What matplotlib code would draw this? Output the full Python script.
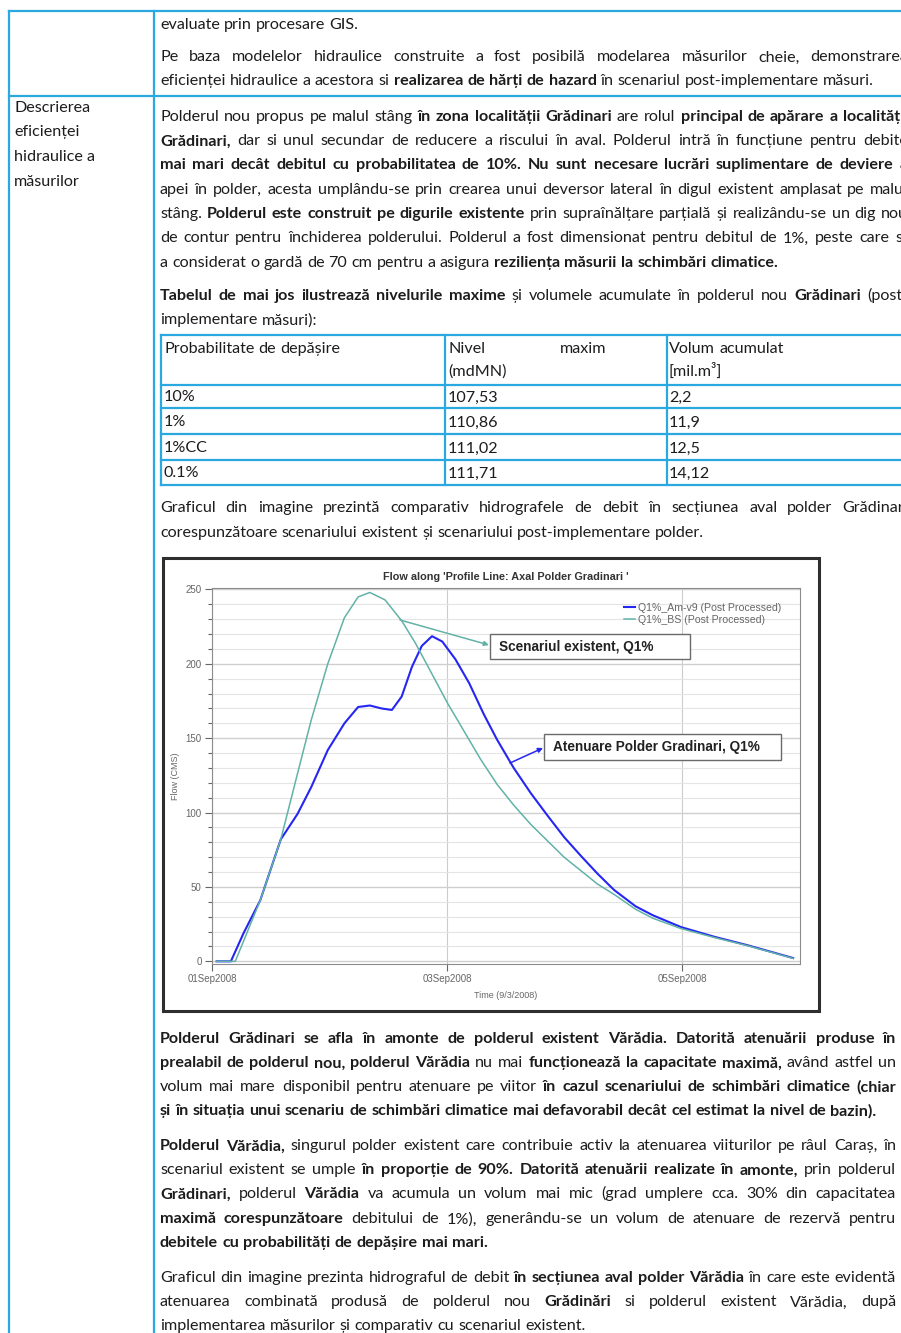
import math
import matplotlib
matplotlib.use("Agg")
import matplotlib.pyplot as plt
from matplotlib.font_manager import FontProperties
from matplotlib.patches import Rectangle, FancyArrowPatch

# ---- table data ----
prob_labels = ["10%", "1%", "1%CC", "0.1%"]
max_level = ["107,53", "110,86", "111,02", "111,71"]
stored_volume = ["2,2", "11,9", "12,5", "14,12"]

# ---- hydrographs, hours after 01Sep2008 00:00 ----
hours_am = [0.9, 3.8, 6.4, 9.8, 14.0, 17.4, 20.2, 23.6, 27.0, 29.8, 32.2, 34.6,
            36.7, 38.7, 40.8, 42.8, 44.9, 47.0, 49.7, 52.5, 55.5, 58.2, 61.6,
            65.1, 68.5, 71.9, 75.3, 78.7, 82.1, 86.5, 90.0, 95.8, 102.6, 109.4,
            118.7]
flow_am = [0, 0, 19, 41, 82, 99, 117, 142, 160, 171, 172, 170,
           169, 178, 198, 212, 218.6, 215, 203, 187, 166, 149, 130,
           113, 98, 83.5, 71, 59, 48, 37, 31, 23, 16.5, 10.8,
           2.2]
hours_bs = [0.9, 4.7, 9.8, 14.0, 17.4, 20.2, 23.6, 27.0, 29.8, 32.2, 35.3,
            38.7, 41.5, 44.6, 48.0, 51.4, 54.8, 58.2, 61.6, 65.1, 68.5, 71.9,
            75.3, 78.7, 82.1, 86.5, 90.0, 95.8, 102.6, 109.4, 118.7]
flow_bs = [0, 0, 41, 82, 126, 162, 200, 231, 245, 248, 243,
           229, 214, 195, 174, 155, 136, 119, 105, 92, 81, 70,
           61, 52, 45, 35, 29, 22, 16, 10.5, 2]
date_ticks = [0, 48, 96]
date_labels = ["01Sep2008", "03Sep2008", "05Sep2008"]

W, H = 901, 1333
TXT = "#1c1c1c"
CYAN = "#2aa9e1"
BODY = "Lato"
CHART = "Liberation Sans"

fig = plt.figure(figsize=(W / 100, H / 100), dpi=100)
page = fig.add_axes([0, 0, 1, 1], zorder=0)
page.set_xlim(0, W)
page.set_ylim(H, 0)
page.axis("off")
renderer = fig.canvas.get_renderer()


def fp(size, bold=False, fam=BODY):
    return FontProperties(family=fam, size=size, weight="bold" if bold else "normal")


def metrics(s, size, bold=False):
    return renderer.get_text_width_height_descent(s, fp(size, bold), ismath=False)


def width(s, size, bold=False):
    return metrics(s, size, bold)[0]


def put(x, yb, s, size, bold=False):
    # Agg snaps each word's bitmap to whole pixels by its own descent;
    # nudge so every word lands on the same baseline row
    d = metrics(s, size, bold)[2]
    drop = math.ceil(d - 1e-6) - d
    page.text(x, round(yb) + drop, s, fontproperties=fp(size, bold), color=TXT,
              va="baseline", ha="left")


# (left, right, y centre, segments, justified)
lines = [
    (160, 908, 25, [("evaluate prin procesare GIS.", 0)], False),
    (160, 908, 57, [("Pe baza modelelor hidraulice construite a fost posibilă modelarea măsurilor cheie, demonstrarea", 0)], True),
    (160, 908, 81, [("eficienței hidraulice a acestora si", 0), ("realizarea de hărți de hazard", 1),
                    ("în scenariul post-implementare măsuri.", 0)], False),
    (160, 908, 117, [("Polderul nou propus pe malul stâng", 0), ("în zona localității Grădinari", 1),
                     ("are rolul", 0), ("principal de apărare a localității", 1)], True),
    (160, 908, 141, [("Grădinari,", 1), ("dar si unul secundar de reducere a riscului în aval.  Polderul intră în funcțiune pentru debite", 0)], True),
    (160, 908, 165, [("mai mari decât debitul cu probabilitatea de 10%. Nu sunt necesare lucrări suplimentare de deviere a", 1)], True),
    (160, 908, 190, [("apei în polder, acesta umplându-se prin crearea unui deversor lateral în digul existent amplasat pe malul", 0)], True),
    (160, 908, 214, [("stâng.", 0), ("Polderul este construit pe digurile existente", 1),
                     ("prin supraînălțare parțială și realizându-se un dig nou", 0)], True),
    (160, 908, 238, [("de contur pentru închiderea polderului. Polderul a fost dimensionat pentru debitul de 1%, peste care s-", 0)], True),
    (160, 908, 263, [("a considerat o gardă de 70 cm pentru a asigura", 0), ("reziliența măsurii la schimbări climatice.", 1)], False),
    (160, 908, 296, [("Tabelul de mai jos ilustrează nivelurile maxime", 1), ("și volumele acumulate în polderul nou", 0),
                     ("Grădinari", 1), ("(post-", 0)], True),
    (160, 908, 320, [("implementare măsuri):", 0)], False),
    (160, 908, 508, [("Graficul din imagine prezintă comparativ hidrografele de debit în secțiunea aval polder Grădinari", 0)], True),
    (160, 908, 533, [("corespunzătoare scenariului existent și scenariului post-implementare polder.", 0)], False),
    (160, 896, 1039, [("Polderul Grădinari se afla în amonte de polderul existent Vărădia. Datorită atenuării produse în", 1)], True),
    (160, 896, 1063, [("prealabil de polderul nou, polderul Vărădia", 1), ("nu mai", 0),
                      ("funcționează la capacitate maximă,", 1), ("având astfel un", 0)], True),
    (160, 896, 1087, [("volum mai mare disponibil pentru atenuare pe viitor", 0),
                      ("în cazul scenariului de schimbări climatice (chiar", 1)], True),
    (160, 896, 1111, [("și în situația unui scenariu de schimbări climatice mai defavorabil decât cel estimat la nivel de bazin).", 1)], False),
    (160, 896, 1146, [("Polderul Vărădia,", 1), ("singurul polder existent care contribuie activ la atenuarea viiturilor pe râul Caraș, în", 0)], True),
    (160, 896, 1170, [("scenariul existent se umple", 0), ("în proporție de 90%. Datorită atenuării realizate în amonte,", 1),
                      ("prin polderul", 0)], True),
    (160, 896, 1194, [("Grădinari,", 1), ("polderul", 0), ("Vărădia", 1),
                      ("va acumula un volum mai mic (grad umplere cca. 30% din capacitatea", 0)], True),
    (160, 896, 1219, [("maximă corespunzătoare", 1), ("debitului de 1%), generându-se un volum de atenuare de rezervă pentru", 0)], True),
    (160, 896, 1243, [("debitele cu probabilități de depășire mai mari.", 1)], False),
    (160, 896, 1278, [("Graficul din imagine prezinta hidrograful de debit", 0), ("în secțiunea aval polder Vărădia", 1),
                      ("în care este evidentă", 0)], True),
    (160, 896, 1302, [("atenuarea combinată produsă de polderul nou", 0), ("Grădinări", 1),
                      ("si polderul existent Vărădia, după", 0)], True),
    (160, 896, 1326, [("implementarea măsurilor și comparativ cu scenariul existent.", 0)], False),
]

# one body size: as large as the reference, but every line must fit its column
base = 10.0
ratio = 0.0
for x0, x1, yc, segs, just in lines:
    words = [(w, b) for s, b in segs for w in s.split()]
    sp = width("a a", base) - width("aa", base)
    nat = sum(width(w, base, b) for w, b in words) + sp * (len(words) - 1)
    ratio = max(ratio, nat / (x1 - x0))
size = min(12.2, base / ratio * 0.99)


def draw_line(x0, x1, yc, segs, just, sz):
    words = [(w, b) for s, b in segs for w in s.split()]
    ws = [width(w, sz, b) for w, b in words]
    sp = width("a a", sz) - width("aa", sz)
    gap = (x1 - x0 - sum(ws)) / (len(words) - 1) if just and len(words) > 1 else sp
    x = x0
    for (w, b), wd in zip(words, ws):
        put(x, yc + 4, w, sz, b)
        x += wd + gap


for ln in lines:
    draw_line(*ln, size)

# left column
for i, s in enumerate(["Descrierea", "eficienței", "hidraulice a", "măsurilor"]):
    put(14, 108 + 24.5 * i + 4, s, size)

# outer table grid
page.plot([9, W], [11, 11], color=CYAN, lw=1.6)
page.plot([9, W], [95.7, 95.7], color=CYAN, lw=1.6)
page.plot([9, 9], [11, H], color=CYAN, lw=1.6)
page.plot([154, 154], [11, H], color=CYAN, lw=1.6)

# inner table
row_y = [334.5, 384.5, 408, 434, 460, 484.5]
for y in row_y:
    page.plot([161, W], [y, y], color=CYAN, lw=1.6)
for x in [161, 444.5, 666.5]:
    page.plot([x, x], [row_y[0], row_y[-1]], color=CYAN, lw=1.6)
draw_line(164, 440, 349, [("Probabilitate de depășire", 0)], False, size)
put(448, 353, "Nivel", size)
put(560, 353, "maxim", size)
put(448, 375, "(mdMN)", size)
draw_line(669, 900, 349, [("Volum acumulat", 0)], False, size)
put(669, 375, "[mil.m³]", size)
for i, (p, lv, vol) in enumerate(zip(prob_labels, max_level, stored_volume)):
    yb = (row_y[i + 1] + row_y[i + 2]) / 2 + 4.5
    put(164, yb, p, size)
    put(448, yb, lv, size)
    put(669, yb, vol, size)

# chart frame
page.add_patch(Rectangle((162.5, 557.5), 656.5, 453.5, fill=False, ec="#2e2e2e", lw=2.2))

# ---- hydrograph chart ----
ax = fig.add_axes([211.5 / W, 1 - 964 / H, (800 - 211.5) / W, (964 - 588) / H], zorder=1)
ax.plot(hours_am, flow_am, color="#2626f2", lw=1.5, label="Q1%_Am-v9 (Post Processed)", zorder=3)
ax.plot(hours_bs, flow_bs, color="#62b2a8", lw=1.1, label="Q1%_BS (Post Processed)", zorder=3)
ax.set_xlim(-0.16, 120.1)
ax.set_ylim(-1.8, 251)
ax.set_xticks(date_ticks)
ax.set_xticklabels(date_labels)
ax.set_yticks(range(0, 251, 50))
ax.set_yticks(range(0, 251, 10), minor=True)
ax.grid(which="minor", axis="y", color="#e4e4e4", lw=0.8)
ax.grid(which="major", axis="y", color="#cfcfcf", lw=1.0)
ax.grid(which="major", axis="x", color="#cccccc", lw=0.8)
ax.tick_params(which="major", colors="#666666", labelsize=7, length=5, width=0.8, pad=2)
ax.tick_params(which="minor", colors="#666666", length=3, width=0.8)
for lab in ax.get_xticklabels() + ax.get_yticklabels():
    lab.set_fontfamily(CHART)
for sp in ax.spines.values():
    sp.set_color("#8c8c8c")
ax.set_title("Flow along 'Profile Line: Axal Polder Gradinari '", fontsize=7.8,
             fontweight="bold", family=CHART, color="#333333", pad=6)
ax.set_ylabel("Flow (CMS)", fontsize=6.5, family=CHART, color="#666666", labelpad=4)
ax.set_xlabel("Time (9/3/2008)", fontsize=6.5, family=CHART, color="#666666", labelpad=5)
ax.legend(loc="upper right", bbox_to_anchor=(0.985, 0.985), frameon=False,
          prop=fp(7.6, fam=CHART), labelcolor="#666666", handlelength=1.1,
          handletextpad=0.3, labelspacing=0.15)

# callouts
top = fig.add_axes([0, 0, 1, 1], zorder=2)
top.set_xlim(0, W)
top.set_ylim(H, 0)
top.axis("off")
top.patch.set_alpha(0)
callouts = [
    ("Scenariul existent, Q1%", (490, 634, 200, 25), (400, 620), (489, 645), "#62b2a8"),
    ("Atenuare Polder Gradinari, Q1%", (544, 734, 237, 26), (510, 763), (543, 748), "#2626f2"),
]
for label, (bx, by, bw, bh), start, end, col in callouts:
    top.add_patch(Rectangle((bx, by), bw, bh, fc="white", ec="#6a6a6a", lw=1.0))
    top.text(bx + 9, by + bh / 2, label, fontproperties=fp(9.8, True, CHART), color="#222222",
             va="center", ha="left")
    top.add_patch(FancyArrowPatch(start, end, arrowstyle="-|>", mutation_scale=7,
                                  color=col, lw=1.1, shrinkA=0, shrinkB=0))

fig.savefig("out.png", dpi=100)
